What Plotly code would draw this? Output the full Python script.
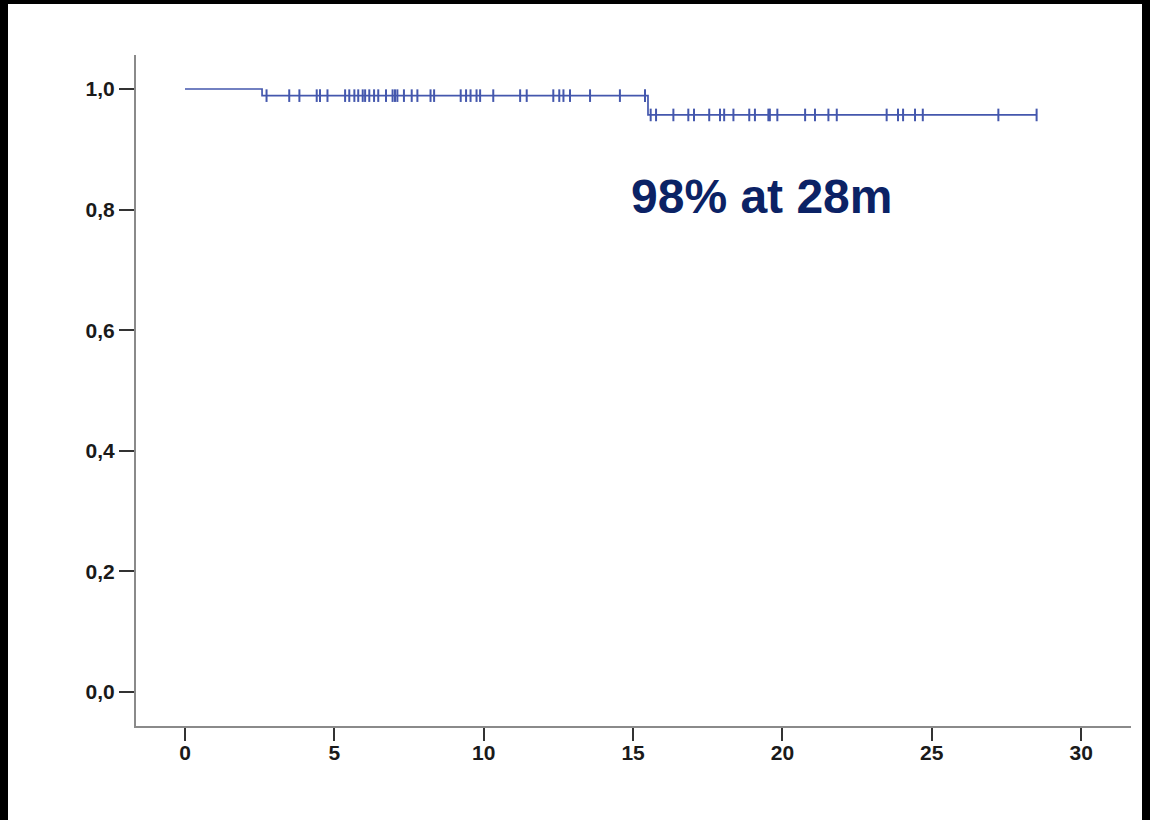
import plotly.graph_objects as go

# Kaplan-Meier step curve (event times and survival after each step)
step_times = [0.0, 2.58, 15.50, 28.51]
step_surv = [1.0, 0.989, 0.957, 0.957]

# Censored observations (months) on each plateau
censor_upper = [2.73, 3.49, 3.83, 4.41, 4.52, 4.77, 5.36, 5.50, 5.67, 5.80, 5.95,
                6.03, 6.17, 6.33, 6.47, 6.73, 6.95, 7.03, 7.11, 7.33, 7.59, 7.78,
                8.22, 8.34, 9.23, 9.41, 9.56, 9.76, 9.88, 10.32, 11.22, 11.44,
                12.33, 12.53, 12.67, 12.89, 13.56, 14.56, 15.40]
censor_lower = [15.59, 15.77, 16.35, 16.85, 17.04, 17.55, 17.91, 18.05, 18.36,
                18.89, 19.08, 19.53, 19.58, 19.83, 20.76, 21.09, 21.54, 21.82,
                23.49, 23.87, 24.04, 24.44, 24.70, 27.23, 28.51]
surv_upper = 0.989
surv_lower = 0.957

x_ticks = [0, 5, 10, 15, 20, 25, 30]
y_ticks = [0.0, 0.2, 0.4, 0.6, 0.8, 1.0]
y_tick_labels = ["0,0", "0,2", "0,4", "0,6", "0,8", "1,0"]

annot_text = "98% at 28m"
annot_x = 19.3
annot_y = 0.822

line_color = "#4457ad"

fig = go.Figure()
fig.add_trace(go.Scatter(
    x=step_times, y=step_surv, mode="lines",
    line=dict(color=line_color, width=1.7, shape="hv"),
    hoverinfo="skip", showlegend=False))
fig.add_trace(go.Scatter(
    x=censor_upper + censor_lower,
    y=[surv_upper] * len(censor_upper) + [surv_lower] * len(censor_lower),
    mode="markers",
    marker=dict(symbol="line-ns", size=9, line=dict(color=line_color, width=2)),
    showlegend=False))

fig.add_annotation(
    x=annot_x, y=annot_y, xref="x", yref="y", text=annot_text, showarrow=False,
    xanchor="center", yanchor="middle",
    font=dict(family="Liberation Sans, Arial, sans-serif", size=48, color="#0b2265", weight="bold"))

W, H = 1150, 820
# black frame on left, top and right (pixel boxes measured from the top-left)
for x0, x1, y0, y1 in [(0, 8, 0, H), (1142, W, 0, H), (0, W, 0, 4)]:
    fig.add_shape(type="rect", xref="paper", yref="paper",
                  x0=x0 / W, x1=x1 / W, y0=(H - y1) / H, y1=(H - y0) / H,
                  fillcolor="black", line=dict(width=0), layer="above")

tick_font = dict(family="Liberation Sans, Arial, sans-serif", size=21, color="#1a1a1a", weight="bold")

fig.update_layout(
    width=W, height=H,
    margin=dict(l=0, r=0, t=0, b=0),
    paper_bgcolor="white", plot_bgcolor="white",
    xaxis=dict(domain=[136 / W, 1131 / W], range=[-1.64, 31.67],
               tickvals=x_ticks, ticks="outside", ticklen=13, tickwidth=2,
               ticklabelstandoff=-6,
               tickcolor="#333333", showline=True, linecolor="#8a8a8a", linewidth=2,
               showgrid=False, zeroline=False, tickfont=tick_font),
    yaxis=dict(domain=[(H - 726) / H, (H - 55) / H], range=[-0.0564, 1.0564],
               tickvals=y_ticks, ticktext=y_tick_labels, ticks="outside", ticklen=15,
               tickwidth=2, tickcolor="#333333", showline=True, linecolor="#8a8a8a",
               linewidth=2, showgrid=False, zeroline=False, tickfont=tick_font),
)

fig.write_html("out.html")
